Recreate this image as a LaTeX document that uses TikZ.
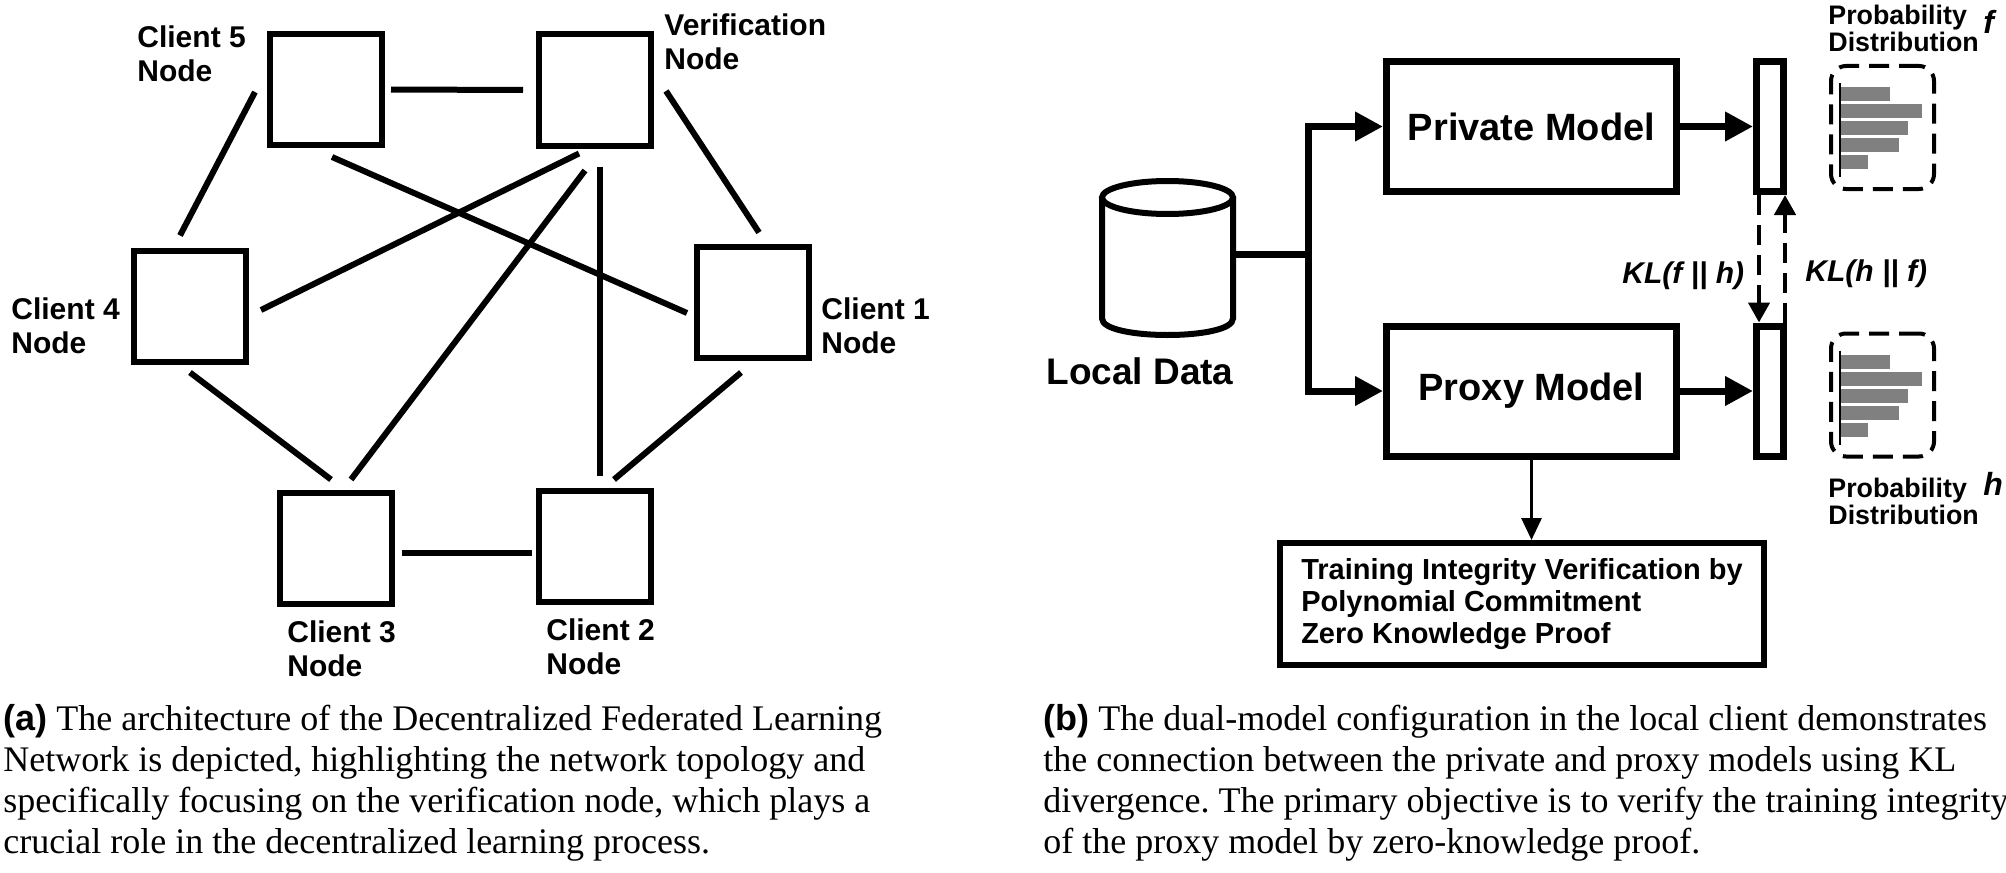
\documentclass[tikz,border=0pt]{standalone}
\usepackage{fontspec}
\setmainfont{Liberation Serif}
\newfontfamily\hv{Liberation Sans}
\usetikzlibrary{arrows.meta}
\begin{document}
\frenchspacing
\begin{tikzpicture}[x=0.5pt,y=-0.5pt,
  netbox/.style={draw, line width=3pt, minimum width=56pt, minimum height=55.5pt, inner sep=0pt},
  link/.style={line width=3pt},
  lbl/.style={font=\hv\bfseries\fontsize{15}{17}\selectfont, align=left, anchor=north west, inner sep=0pt},
  model/.style={draw, line width=3.5pt, minimum width=145pt, minimum height=65pt, inner sep=0pt, font=\hv\bfseries\fontsize{19}{22}\selectfont},
  outbar/.style={draw, line width=3.5pt, minimum width=13.5pt, minimum height=65pt, inner sep=0pt},
  flow/.style={line width=3.5pt, -{Triangle[length=14pt,width=14pt]}},
  kl/.style={line width=2.25pt, dash pattern=on 10pt off 5pt, -{Triangle[length=10pt,width=10.5pt]}},
  klt/.style={font=\hv\bfseries\itshape\fontsize{15}{17}\selectfont, inner sep=0pt},
  probbox/.style={draw, line width=2pt, dash pattern=on 10pt off 5pt, rounded corners=7.5pt, minimum width=51.5pt, minimum height=61.5pt, inner sep=0pt},
  probtxt/.style={font=\hv\bfseries\fontsize{13.4}{12}\selectfont, align=left, anchor=north west, inner sep=0pt},
  distvar/.style={font=\hv\bfseries\itshape\fontsize{16}{18}\selectfont, anchor=base west, inner sep=0pt},
  histbar/.style={fill=black!50},
  trainbox/.style={draw, line width=3pt, minimum width=242pt, minimum height=61pt, inner sep=0pt, align=left, font=\hv\bfseries\fontsize{14.5}{16}\selectfont},
  captext/.style={font=\fontsize{18}{20.5}\selectfont\frenchspacing, align=left, anchor=north west, inner sep=0pt}
]
\useasboundingbox (0,0) rectangle (2006,872);

% ---------- (a) network ----------
\node[netbox] (c5) at (326,89.5) {};
\node[netbox] (v)  at (595,90) {};
\node[netbox] (c4) at (190,306) {};
\node[netbox] (c1) at (753,302) {};
\node[netbox] (c3) at (336,548) {};
\node[netbox] (c2) at (595,546) {};

\node[lbl] (l5) at (137,25) {Client 5\\Node};
\node[lbl] (lv) at (664,13) {Verification\\Node};
\node[lbl] (l4) at (11,297) {Client 4\\Node};
\node[lbl] (l1) at (821,297) {Client 1\\Node};
\node[lbl] (l3) at (287,620) {Client 3\\Node};
\node[lbl] (l2) at (546,618) {Client 2\\Node};

\draw[link] ([xshift=3pt]c5.east) -- ([xshift=-6.5pt]v.west);
\draw[link] ([xshift=-6pt,yshift=-1.25pt]c5.west) -- ([xshift=-5pt,yshift=6pt]c4.north);
\draw[link] ([xshift=6pt,yshift=-0.5pt]v.east) -- ([xshift=3pt,yshift=5.5pt]c1.north);
\draw[link] ([xshift=3pt,yshift=-4.5pt]c5.south) -- ([xshift=-3.5pt,yshift=-5.5pt]c1.west);
\draw[link] ([xshift=-8pt,yshift=-2.5pt]v.south) -- ([xshift=6pt,yshift=-2pt]c4.east);
\draw[link] ([xshift=-5pt,yshift=-11pt]v.south) -- ([xshift=7.5pt,yshift=5pt]c3.north);
\draw[link] ([xshift=2.5pt,yshift=-9pt]v.south) -- ([xshift=2.5pt,yshift=6pt]c2.north);
\draw[link] ([yshift=-4pt]c4.south) -- ([xshift=-2.5pt,yshift=5pt]c3.north);
\draw[link] ([xshift=-6pt,yshift=-6pt]c1.south) -- ([xshift=9.5pt,yshift=4pt]c2.north);
\draw[link] ([xshift=3.5pt,yshift=-2.5pt]c3.east) -- ([xshift=-2pt,yshift=-3.5pt]c2.west);

% ---------- (b) dual model ----------
\node[inner sep=0pt, outer sep=0pt, minimum width=68.5pt, minimum height=80pt] (db) at (1167.5,258) {};
\draw[line width=3pt] (1102,197.5) -- (1102,318.5) .. controls (1102,340.5) and (1233,340.5) .. (1233,318.5) -- (1233,197.5);
\draw[line width=3pt] (1167.5,197.5) ellipse [x radius=32.75pt, y radius=8.25pt];
\node[font=\hv\bfseries\fontsize{18.5}{21}\selectfont, anchor=base, inner sep=0pt] (ld) at (1140,384) {Local Data};

\node[model] (priv) at (1531.5,126.5) {Private Model};
\node[model] (prox) at (1531.5,391) {Proxy Model};
\node[outbar] (b1) at (1770,126.5) {};
\node[outbar] (b2) at (1770,391) {};

\coordinate (jn) at (1308,254);
\draw[line width=3.5pt] (db.east |- jn) -- (jn);
\draw[flow] (jn) |- (priv.west);
\draw[flow] (jn) |- (prox.west);
\draw[flow] (priv.east) -- (b1.west);
\draw[flow] (prox.east) -- (b2.west);

\draw[kl] ([xshift=-5.5pt]b1.south) -- ([xshift=-5.5pt]b2.north);
\draw[kl] ([xshift=7.5pt]b2.north) -- ([xshift=7.5pt]b1.south);
\node[klt, anchor=base west] (kl1) at (1622,283) {KL(f || h)};
\node[klt, anchor=base west] (kl2) at (1805,281) {KL(h || f)};

\node[probbox] (p1) at (1882.5,127.5) {};
\node[probbox] (p2) at (1882.5,395) {};
\foreach \p in {p1,p2}{
  \begin{scope}[shift={(\p.north west)}]
    \fill[histbar] (12,23) rectangle (61,37);
    \fill[histbar] (12,40) rectangle (93,54);
    \fill[histbar] (12,57) rectangle (79,71);
    \fill[histbar] (12,74) rectangle (70,88);
    \fill[histbar] (12,91) rectangle (39,105);
    \draw[line width=1pt] (11,19) -- (11,113);
  \end{scope}
}
\node[probtxt] (pt1) at (1828,5) {Probability\\Distribution};
\node[distvar] (fv) at (1983,34) {f};
\node[probtxt] (pt2) at (1828,478) {Probability\\Distribution};
\node[distvar] (hv) at (1983,495) {h};

\node[trainbox] (train) at (1522,604) {Training Integrity Verification by\\Polynomial Commitment\\Zero Knowledge Proof};
\draw[line width=1.5pt, -{Triangle[length=11pt,width=10pt]}] (prox.south) -- (prox.south |- train.north);

% ---------- captions ----------
\node[captext] (capa) at (3,704) {{\hv\bfseries (a)} The architecture of the Decentralized Federated Learning\\Network is depicted, highlighting the network topology and\\specifically focusing on the verification node, which plays a\\crucial role in the decentralized learning process.};
\node[captext] (capb) at (1043,704) {{\hv\bfseries (b)} The dual-model configuration in the local client demonstrates\\the connection between the private and proxy models using KL\\divergence. The primary objective is to verify the training integrity\\of the proxy model by zero-knowledge proof.};
\end{tikzpicture}
\end{document}
